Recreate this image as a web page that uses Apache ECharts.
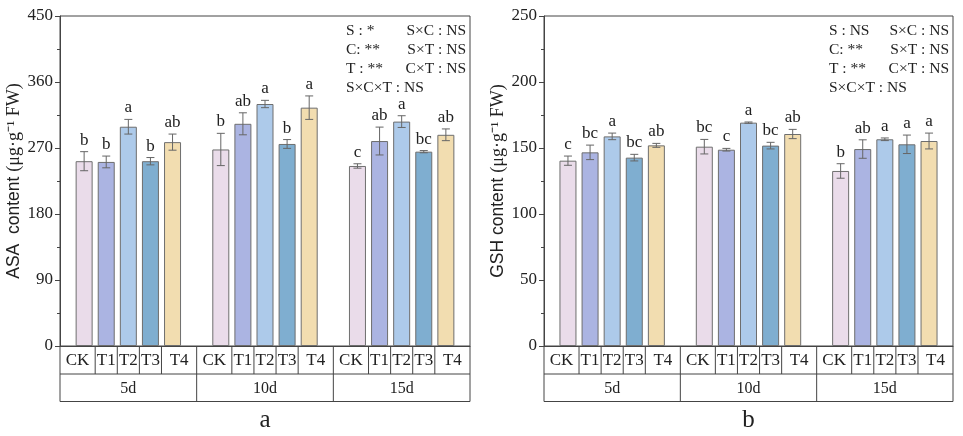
<!DOCTYPE html>
<html>
<head>
<meta charset="utf-8">
<script src="https://cdn.jsdelivr.net/npm/echarts@6/dist/echarts.min.js"></script>
<style>
html,body{margin:0;padding:0;background:#fff;}
#main{width:963px;height:436px;}
</style>
</head>
<body>
<div id="main"></div>
<script>
// ---------- data ----------
const days = ['5d', '10d', '15d'];
const treatments = ['CK', 'T1', 'T2', 'T3', 'T4'];
const colors = ['#eadcea', '#abb4e2', '#adcaea', '#7faed0', '#f2ddb0'];

// ASA (rows: CK, T1, T2, T3, T4; columns: 5d, 10d, 15d)
const asaMean = [
  [252, 268, 245.5],
  [251, 303, 279.5],
  [299, 330, 306],
  [252, 275.5, 265],
  [278, 325, 288]
];
const asaErr = [
  [13, 22, 3],
  [8, 15, 19],
  [10, 5, 8],
  [5, 6, 1.5],
  [11, 16, 8]
];
const asaLetters = [
  ['b', 'b', 'c'],
  ['b', 'ab', 'ab'],
  ['a', 'a', 'a'],
  ['b', 'b', 'bc'],
  ['ab', 'a', 'ab']
];
// GSH
const gshMean = [
  [140.4, 151, 132.6],
  [146.7, 148.7, 149.2],
  [158.8, 169.2, 156.6],
  [142.7, 151.8, 152.8],
  [152, 160.6, 155.3]
];
const gshErr = [
  [3.5, 5.5, 5.5],
  [5.5, 1, 7],
  [2.5, 0.5, 1],
  [2.5, 2.5, 7],
  [1.5, 3.5, 6]
];
const gshLetters = [
  ['c', 'bc', 'b'],
  ['bc', 'c', 'ab'],
  ['a', 'a', 'a'],
  ['bc', 'bc', 'a'],
  ['ab', 'ab', 'a']
];
const asaStats = [['S : *', 'S×C : NS'], ['C: **', 'S×T : NS'], ['T : **', 'C×T : NS'], ['S×C×T : NS', '']];
const gshStats = [['S : NS', 'S×C : NS'], ['C: **', 'S×T : NS'], ['T : **', 'C×T : NS'], ['S×C×T : NS', '']];
const panelLabels = ['a', 'b'];

// ---------- style ----------
const SERIF = '"Liberation Serif", "Times New Roman", serif';
const SANS = '"Liberation Sans", Arial, sans-serif';
const AX = '#444';
const BAR_W = 17;
const GAP = 0.3;
const STEP = BAR_W * (1 + GAP);

const chart = echarts.init(document.getElementById('main'), null, {renderer: 'canvas'});

const grids = [
  {left: 60, top: 16, width: 410, height: 330},
  {left: 544, top: 16, width: 409, height: 330}
];

function yAxisCfg(gi, max, interval, label, gap) {
  return {
    gridIndex: gi, type: 'value', min: 0, max: max, interval: interval,
    name: label, nameLocation: 'middle', nameGap: gap, nameRotate: 90,
    nameTextStyle: {
      rich: {
        s: {fontFamily: SANS, fontSize: 17.5, color: '#222'},
        t: {fontFamily: SERIF, fontSize: 18, color: '#222'}
      }
    },
    axisLine: {show: true, lineStyle: {color: AX, width: 1}},
    axisTick: {show: true, inside: false, length: 5, lineStyle: {color: AX}},
    minorTick: {show: true, splitNumber: 2, length: 3, lineStyle: {color: AX}},
    splitLine: {show: false},
    axisLabel: {fontFamily: SERIF, fontSize: 17, color: '#222', margin: 7}
  };
}

function xAxisCfg(gi) {
  return {
    gridIndex: gi, type: 'category', data: days,
    axisLine: {show: true, lineStyle: {color: AX}},
    axisTick: {show: false}, axisLabel: {show: false}
  };
}

const series = [];
[[asaMean, asaErr, asaLetters], [gshMean, gshErr, gshLetters]].forEach(function (set, gi) {
  const mean = set[0], err = set[1], letters = set[2];
  treatments.forEach(function (t, k) {
    series.push({
      type: 'bar', name: t, xAxisIndex: gi, yAxisIndex: gi,
      barWidth: BAR_W, barGap: (GAP * 100) + '%',
      itemStyle: {color: colors[k], borderColor: '#6e6e6e', borderWidth: 1},
      data: mean[k], z: 2
    });
  });
  treatments.forEach(function (t, k) {
    series.push({
      type: 'custom', xAxisIndex: gi, yAxisIndex: gi, z: 5,
      data: mean[k].map(function (m, i) { return [i, m, err[k][i]]; }),
      renderItem: function (params, api) {
        const i = api.value(0), m = api.value(1), e = api.value(2);
        const off = (k - 2) * STEP;
        const top = api.coord([i, m + e]);
        const bot = api.coord([i, m - e]);
        const x = top[0] + off;
        const cap = 4;
        const ls = {stroke: '#666', lineWidth: 1};
        return {
          type: 'group',
          children: [
            {type: 'line', shape: {x1: x, y1: top[1], x2: x, y2: bot[1]}, style: ls},
            {type: 'line', shape: {x1: x - cap, y1: top[1], x2: x + cap, y2: top[1]}, style: ls},
            {type: 'line', shape: {x1: x - cap, y1: bot[1], x2: x + cap, y2: bot[1]}, style: ls},
            {type: 'text', x: x, y: top[1] - 3,
              style: {text: letters[k][params.dataIndex], fontFamily: SERIF, fontSize: 17,
                fill: '#222', textAlign: 'center', textVerticalAlign: 'bottom'}}
          ]
        };
      }
    });
  });
});

chart.setOption({
  animation: false,
  backgroundColor: '#fff',
  grid: grids.map(function (g) {
    return Object.assign({show: true, borderColor: AX, borderWidth: 1, backgroundColor: 'transparent'}, g);
  }),
  xAxis: [xAxisCfg(0), xAxisCfg(1)],
  yAxis: [
    yAxisCfg(0, 450, 90, '{s|ASA  content }{t|(μg·g⁻¹ FW)}', 33),
    yAxisCfg(1, 250, 50, '{s|GSH content }{t|(μg·g⁻¹ FW)}', 35)
  ],
  series: series
});

// ---------- category table + annotations ----------
const graphics = [];
const ROW1 = 28, ROW2 = 27.5;
[asaStats, gshStats].forEach(function (stats, gi) {
  const c0 = chart.convertToPixel({xAxisIndex: gi}, days[0]);
  const c1 = chart.convertToPixel({xAxisIndex: gi}, days[1]);
  const band = c1 - c0;
  const left = c0 - band / 2;
  const right = left + band * days.length;
  const y0 = chart.convertToPixel({yAxisIndex: gi}, 0);
  const y1 = y0 + ROW1, y2 = y1 + ROW2;
  const ls = {stroke: AX, lineWidth: 1};
  const line = function (a, b, c, d) {
    graphics.push({type: 'line', shape: {x1: a, y1: b, x2: c, y2: d}, style: ls, silent: true});
  };
  const txt = function (x, y, s, size, align, fam) {
    graphics.push({type: 'text', x: x, y: y, silent: true,
      style: {text: s, fontFamily: fam || SERIF, fontSize: size, fill: '#222',
        textAlign: align || 'center', textVerticalAlign: 'middle'}});
  };
  line(left, y1, right, y1);
  line(left, y2, right, y2);
  line(left, y0, left, y2);
  days.forEach(function (d, i) {
    const cx = c0 + band * i;
    const gl = cx - band / 2, gr = cx + band / 2;
    line(gr, y0, gr, y2);
    const seps = [];
    for (let k = 1; k < treatments.length; k++) {
      const sx = cx + (k - 2.5) * STEP;
      seps.push(sx);
      line(sx, y0, sx, y1);
    }
    const bounds = [gl].concat(seps).concat([gr]);
    treatments.forEach(function (t, k) {
      txt((bounds[k] + bounds[k + 1]) / 2, (y0 + y1) / 2 + 1, t, 17);
    });
    txt(cx, (y1 + y2) / 2 + 1, d, 16);
  });
  txt((left + right) / 2, 420, panelLabels[gi], 25);
  // statistics annotation
  const top = chart.convertToPixel({yAxisIndex: gi}, gi === 0 ? 450 : 250);
  stats.forEach(function (row, r) {
    const yy = top + 15 + r * 19;
    txt(right - 124, yy, row[0], 15.5, 'left');
    if (row[1]) txt(right - 4, yy, row[1], 15.5, 'right');
  });
});
chart.setOption({graphic: graphics});
</script>
</body>
</html>
